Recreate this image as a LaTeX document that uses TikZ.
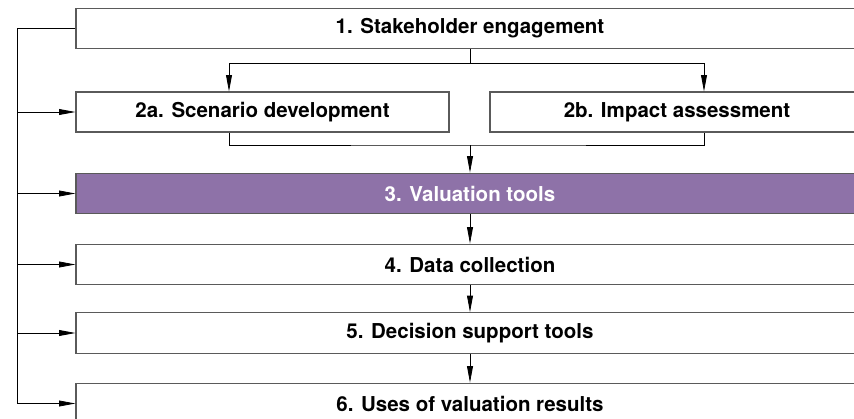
\documentclass[tikz,border=0pt]{standalone}
\usepackage{fontspec}
\setmainfont{TeX Gyre Heros}
\usetikzlibrary{arrows.meta}
\definecolor{valpurple}{RGB}{142,114,168}
\definecolor{boxgrey}{RGB}{90,90,90}
\begin{document}
\begin{tikzpicture}[x=0.03cm, y=-0.03cm,
    box/.style={draw=boxgrey, line width=0.9pt, minimum height=1.22cm, inner sep=0pt,
        font=\fontsize{17.5}{20}\selectfont\bfseries},
    arr/.style={-{Triangle[length=14pt,width=5pt]}},
    link/.style={line width=0.7pt}]
    \useasboundingbox (0,0) rectangle (854,419);
    % boxes
    \node[box, minimum width=23.64cm] (b1) at (470,28.5) {1. Stakeholder engagement};
    \node[box, minimum width=11.19cm, minimum height=1.2cm] (b2a) at (262.5,112) {2a. Scenario development};
    \node[box, minimum width=11.22cm, minimum height=1.2cm] (b2b) at (677,112) {2b. Impact assessment};
    \node[box, minimum width=23.64cm, fill=valpurple, text=white] (b3) at (470,193.5) {3. Valuation tools};
    \node[box, minimum width=23.64cm] (b4) at (470,264.5) {4. Data collection};
    \node[box, minimum width=23.64cm] (b5) at (470,333) {5. Decision support tools};
    \node[box, minimum width=23.64cm] (b6) at (470,403.5) {6. Uses of valuation results};
    % helper points
    \coordinate (spine) at (17,28.5);
    \coordinate (split) at (470,63);
    \coordinate (merge) at (470,145);
    \coordinate (dropa) at (229,63);
    \coordinate (dropb) at (704,63);
    % split and merge
    \draw[link] (b1.south -| split) -- (split);
    \draw[link] (dropa) -- (dropb);
    \draw[link, arr] (dropa) -- (dropa |- b2a.north);
    \draw[link, arr] (dropb) -- (dropb |- b2b.north);
    \draw[link] (dropa |- b2a.south) |- (merge) -| (dropb |- b2b.south);
    \draw[link, arr] (merge) -- (b3.north);
    \draw[link, arr] (b3) -- (b4);
    \draw[link, arr] (b4) -- (b5);
    \draw[link, arr] (b5) -- (b6);
    % feedback line on the left
    \draw[link] (b1.west) -- (spine) -- (spine |- b6.west);
    \foreach \b in {b2a,b3,b4,b5,b6}
        \draw[link, arr] (spine |- \b.west) -- (\b.west);
\end{tikzpicture}
\end{document}
